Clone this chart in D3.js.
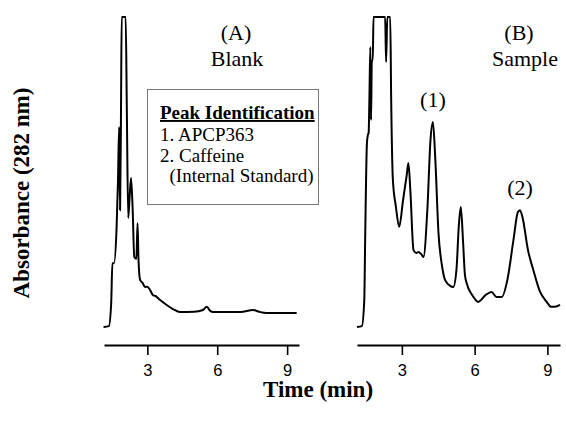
<!DOCTYPE html>
<html>
<head>
<meta charset="utf-8">
<script src="https://cdn.jsdelivr.net/npm/d3@7"></script>
<style>
  body { margin: 0; background: #fff; }
  .trace { fill: none; stroke: #000; stroke-width: 2px; stroke-linejoin: round; }
  .axis path { stroke: #000; stroke-width: 2px; }
  .axis line { stroke: #000; stroke-width: 1.6px; }
  .axis text { font-family: "Liberation Sans", Arial, sans-serif; font-size: 16.5px; fill: #000; }
  .serif { font-family: "Liberation Serif", "Times New Roman", serif; fill: #000; }
</style>
</head>
<body>
<div id="container"></div>
<script>
// SVG dimensions
var width = 566,
    height = 430;

// Panel (A) Blank chromatogram: time (min) and absorbance (% of full scale)
var blankTime = [1.12, 1.35, 1.45, 1.50, 1.57, 1.68, 1.74, 1.79, 1.83, 1.87, 1.90, 2.07, 2.12, 2.18, 2.24, 2.30,
                 2.37, 2.44, 2.53, 2.58, 2.62, 2.69, 2.80, 2.90, 3.00, 3.12, 3.24, 3.35, 3.55, 3.83, 4.10, 4.40,
                 5.00, 5.39, 5.55, 5.70, 5.82, 6.55, 7.00, 7.54, 7.80, 8.12, 9.41];
var blankAbs  = [0, 0.3, 8, 20.6, 20.6, 32, 47, 64.5, 37.7, 70, 100, 100, 70, 35.2, 42, 48.1,
                 38, 22.6, 22, 33.5, 22, 15.2, 14.2, 12.9, 13, 11.9, 10.3, 10, 8.7, 7.1, 5.8, 4.8,
                 4.9, 5.5, 6.5, 5.2, 4.8, 4.8, 4.8, 5.5, 4.9, 4.5, 4.5];

// Panel (B) Sample chromatogram
var sampleTime = [1.15, 1.35, 1.45, 1.49, 1.56, 1.60, 1.63, 1.66, 1.70, 1.73, 1.76, 1.80, 1.83, 2.31, 2.35, 2.40,
                  2.52, 2.56, 2.63, 2.75, 2.89, 3.05, 3.20, 3.27, 3.35, 3.48, 3.60, 3.68, 3.80, 3.89, 4.05, 4.18,
                  4.28, 4.38, 4.51, 4.65, 4.78, 5.00, 5.12, 5.25, 5.35, 5.43, 5.52, 5.60, 5.67, 5.90, 6.15, 6.45,
                  6.70, 6.90, 7.12, 7.35, 7.60, 7.78, 7.87, 7.98, 8.20, 8.42, 8.70, 8.97, 9.15, 9.31, 9.52];
var sampleAbs  = [0, 0.3, 8.7, 30.3, 59.4, 62, 62.6, 73, 90.3, 66.8, 86, 86, 100, 100, 85.5, 100,
                  100, 73, 47.4, 39, 32.3, 41, 49, 52.9, 44, 24.8, 23.9, 24.2, 23.5, 22.6, 37.7, 60.3,
                  66.1, 53.9, 30.3, 20, 15.2, 13.2, 12.9, 18.4, 32.9, 38.7, 28, 16.8, 14.2, 10.3, 8.1, 10.3,
                  11.3, 9.7, 9.7, 15.2, 28, 37, 37.7, 35.2, 24.8, 18.4, 11.3, 8.1, 6.5, 6.5, 7.1];

var tickValues = [3, 6, 9];
var peakLabels = [{ text: "(1)", t: 4.28, a: 66.1 }, { text: "(2)", t: 7.87, a: 37.7 }];
var legendLines = ["1. APCP363", "2. Caffeine", "  (Internal Standard)"];

var svg = d3.select("#container")
    .append("svg")
    .attr("width", width)
    .attr("height", height);

// Shared absorbance scale (no axis drawn, as in the original)
var yScale = d3.scaleLinear().domain([0, 100]).range([327, 17]);

var xA = d3.scaleLinear().domain([1.14, 9.51]).range([104, 299]);
var xB = d3.scaleLinear().domain([1.15, 9.52]).range([357, 560]);

function drawPanel(x, times, values) {
    var pts = times.map(function(t, i) { return [t, values[i]]; });
    var line = d3.line()
        .x(function(d) { return x(d[0]); })
        .y(function(d) { return yScale(d[1]); })
        .curve(d3.curveMonotoneX);
    svg.append("path")
        .attr("class", "trace")
        .attr("d", line(pts));

    var axis = d3.axisBottom(x)
        .tickValues(tickValues)
        .tickSize(10)
        .tickSizeOuter(0)
        .tickPadding(9);
    svg.append("g")
        .attr("class", "axis")
        .attr("transform", "translate(0,345)")
        .call(axis);
}

drawPanel(xA, blankTime, blankAbs);
drawPanel(xB, sampleTime, sampleAbs);

// Panel titles
svg.append("text").attr("class", "serif").attr("x", 236).attr("y", 40)
    .attr("text-anchor", "middle").style("font-size", "22px").text("(A)");
svg.append("text").attr("class", "serif").attr("x", 237).attr("y", 66)
    .attr("text-anchor", "middle").style("font-size", "22px").text("Blank");
svg.append("text").attr("class", "serif").attr("x", 519).attr("y", 40)
    .attr("text-anchor", "middle").style("font-size", "22px").text("(B)");
svg.append("text").attr("class", "serif").attr("x", 525).attr("y", 66)
    .attr("text-anchor", "middle").style("font-size", "22px").text("Sample");

// Peak labels above the sample peaks
svg.selectAll(".peak")
    .data(peakLabels)
    .enter()
    .append("text")
    .attr("class", "serif peak")
    .attr("x", function(d) { return xB(d.t); })
    .attr("y", function(d) { return yScale(d.a) - 15; })
    .attr("text-anchor", "middle")
    .style("font-size", "22px")
    .text(function(d) { return d.text; });

// Peak identification box
svg.append("rect")
    .attr("x", 147.5).attr("y", 89.5)
    .attr("width", 171).attr("height", 115)
    .attr("fill", "#fff").attr("stroke", "#777").attr("stroke-width", 1);
svg.append("text").attr("class", "serif").attr("x", 160).attr("y", 119)
    .style("font-size", "19px").style("font-weight", "bold")
    .style("text-decoration", "underline")
    .text("Peak Identification");
svg.selectAll(".legend")
    .data(legendLines)
    .enter()
    .append("text")
    .attr("class", "serif legend")
    .attr("x", 160)
    .attr("y", function(d, i) { return 141 + i * 20.5; })
    .attr("xml:space", "preserve")
    .style("white-space", "pre")
    .style("font-size", "19px")
    .text(function(d) { return d; });

// Axis titles
svg.append("text").attr("class", "serif")
    .attr("x", 318).attr("y", 397)
    .attr("text-anchor", "middle")
    .style("font-size", "23px").style("font-weight", "bold")
    .text("Time (min)");
svg.append("text").attr("class", "serif")
    .attr("transform", "translate(29,193) rotate(-90)")
    .attr("text-anchor", "middle")
    .style("font-size", "23px").style("font-weight", "bold")
    .text("Absorbance (282 nm)");
</script>
</body>
</html>
